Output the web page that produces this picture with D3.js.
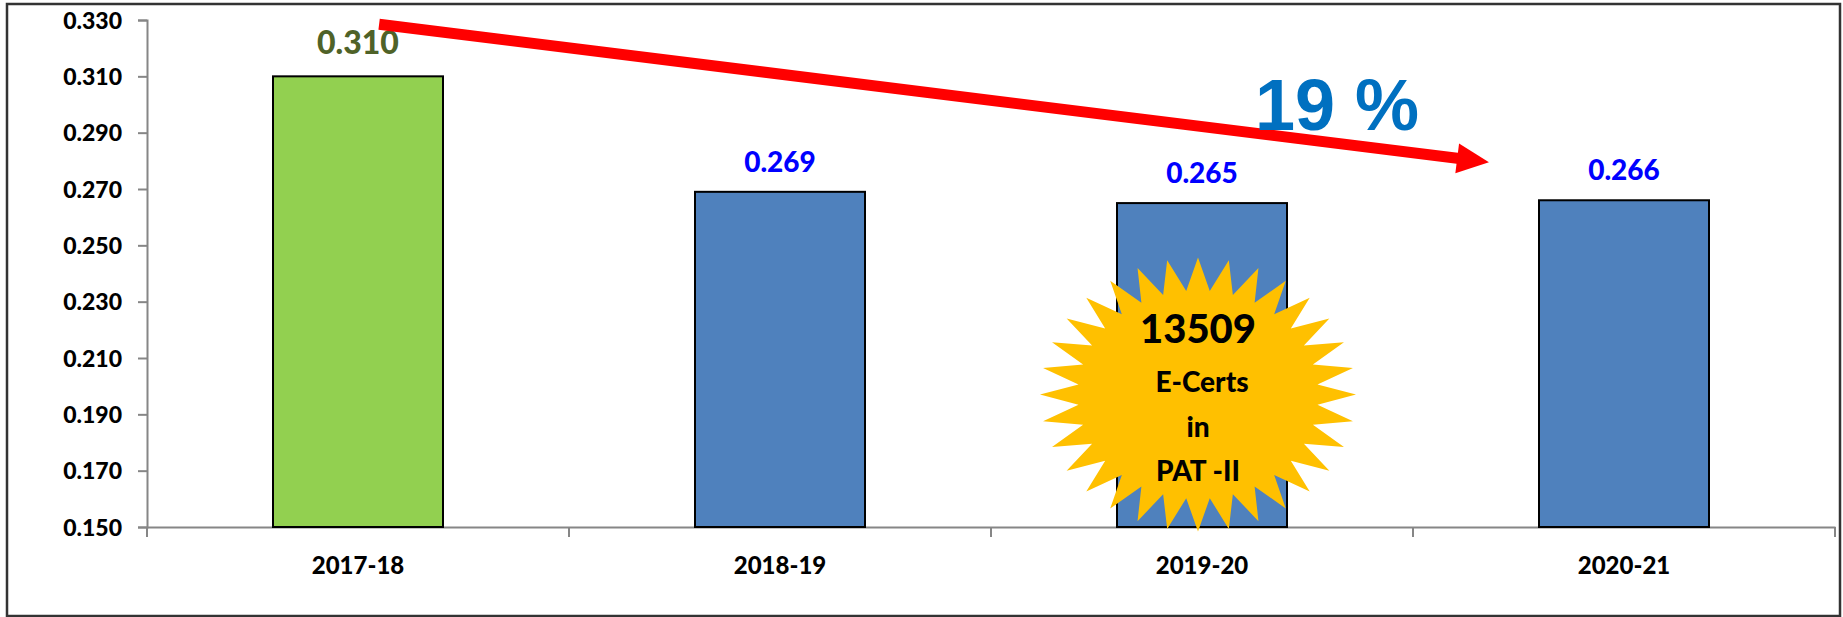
<!DOCTYPE html>
<html>
  <head>
    <meta charset="utf-8">
    <script src="https://d3js.org/d3.v7.min.js"></script>
    <style>
    body {
      margin: 0;
      background-color: #fff;
    }
    text {
      font-family: Lato, "Open Sans", sans-serif;
      font-weight: 900;
    }
    </style>
    <title>PAT-II E-Certs</title>
  </head>
  <body>
    <div class="chart"></div>

    <script>

      // data
      var years = ["2017-18", "2018-19", "2019-20", "2020-21"];
      var values = [0.310, 0.269, 0.265, 0.266];
      var barColors = ["#92d050", "#4f81bd", "#4f81bd", "#4f81bd"];
      var labelColors = ["#4f6228", "#0000ff", "#0000ff", "#0000ff"];
      var yTicks = [0.150, 0.170, 0.190, 0.210, 0.230, 0.250, 0.270, 0.290, 0.310, 0.330];

      // annotations (in data terms)
      var arrowStart = { year: "2017-18", shift: 0.05, value: 0.3285 };
      var arrowEnd = { year: "2020-21", shift: -0.32, value: 0.2795 };
      var arrowText = "19 %";
      var starYear = "2019-20";
      var starValue = 0.197;
      var starLines = ["13509", "E-Certs", "in", "PAT -II"];

      var width = 1843;
      var height = 617;

      var margin = {
        top: 20,
        right: 8,
        left: 147,
        bottom: 90
      };

      var svg = d3.select('.chart').append("svg")
          .attr("width", width)
          .attr("height", height);

      // outer frame
      svg.append("rect")
          .attr("x", 7)
          .attr("y", 4)
          .attr("width", 1833)
          .attr("height", 612)
          .attr("fill", "none")
          .attr("stroke", "#333")
          .attr("stroke-width", 2.5);

      var x = d3.scaleBand()
          .domain(years)
          .range([margin.left, width - margin.right])
          .padding(0);

      var y = d3.scaleLinear()
          .domain([0.150, 0.330])
          .range([height - margin.bottom, margin.top]);

      var barWidth = 170;
      var fmt = d3.format(".3f");
      var axisColor = "#868686";

      // y axis
      var yAxis = svg.append("g")
          .attr("transform", "translate(" + margin.left + ",0)")
          .call(d3.axisLeft(y).tickValues(yTicks).tickFormat(fmt).tickSize(9).tickPadding(16));

      yAxis.select(".domain").attr("stroke", axisColor).attr("stroke-width", 2);
      yAxis.selectAll(".tick line").attr("stroke", axisColor).attr("stroke-width", 2);
      yAxis.selectAll(".tick text")
          .attr("font-size", 23)
          .attr("fill", "#000")
          .attr("dy", "0.36em");

      // x axis: labels centred, ticks at category boundaries
      var xAxis = svg.append("g")
          .attr("transform", "translate(0," + y(0.150) + ")")
          .call(d3.axisBottom(x).tickSize(0).tickPadding(30));

      xAxis.select(".domain").attr("stroke", axisColor).attr("stroke-width", 2);
      xAxis.selectAll(".tick text")
          .attr("font-size", 24)
          .attr("fill", "#000");

      var bounds = years.map(function(d) { return x(d); }).concat([x(years[years.length - 1]) + x.bandwidth()]);
      xAxis.selectAll(".bound")
          .data(bounds)
          .enter().append("line")
          .attr("class", "bound")
          .attr("x1", function(d) { return d; })
          .attr("x2", function(d) { return d; })
          .attr("y1", 0)
          .attr("y2", 10)
          .attr("stroke", axisColor)
          .attr("stroke-width", 2);

      // bars
      var data = years.map(function(d, i) { return { year: d, value: values[i], i: i }; });

      svg.append("g")
          .selectAll("rect")
          .data(data)
          .enter().append("rect")
          .attr("x", function(d) { return x(d.year) + (x.bandwidth() - barWidth) / 2; })
          .attr("y", function(d) { return y(d.value); })
          .attr("width", barWidth)
          .attr("height", function(d) { return y(0.150) - y(d.value); })
          .attr("fill", function(d) { return barColors[d.i]; })
          .attr("stroke", "#000")
          .attr("stroke-width", 2);

      // value labels
      svg.append("g")
          .selectAll("text")
          .data(data)
          .enter().append("text")
          .attr("x", function(d) { return x(d.year) + x.bandwidth() / 2; })
          .attr("y", function(d) { return y(d.value) - (d.i === 0 ? 22 : 20); })
          .attr("text-anchor", "middle")
          .attr("font-size", function(d) { return d.i === 0 ? 32 : 28; })
          .attr("fill", function(d) { return labelColors[d.i]; })
          .text(function(d) { return fmt(d.value); });

      // starburst
      var cx = x(starYear) + x.bandwidth() / 2 - 4;
      var cy = y(starValue);
      var nPts = 32, rx = 158, ry = 137, inner = 0.76;
      var pts = [];
      for (var k = 0; k < nPts * 2; k++) {
        var a = -Math.PI / 2 + k * Math.PI / nPts;
        var r = (k % 2 === 0) ? 1 : inner;
        pts.push([cx + Math.cos(a) * rx * r, cy + Math.sin(a) * ry * r]);
      }
      svg.append("path")
          .attr("d", "M" + pts.join("L") + "Z")
          .attr("fill", "#ffc000");

      var starText = svg.append("g");
      var lineY = [-52, -3, 42, 86];
      var lineSize = [40, 28, 28, 28];
      starLines.forEach(function(t, i) {
        starText.append("text")
            .attr("x", cx + (i === 1 ? 4 : 0))
            .attr("y", cy + lineY[i])
            .attr("text-anchor", "middle")
            .attr("font-size", lineSize[i])
            .attr("fill", "#000")
            .text(t);
      });

      // red arrow (start just right of the first bar's centre, tip left of the last bar)
      var x0 = x(arrowStart.year) + x.bandwidth() * (0.5 + arrowStart.shift);
      var y0 = y(arrowStart.value);
      var x1 = x(arrowEnd.year) + x.bandwidth() * (0.5 + arrowEnd.shift);
      var y1 = y(arrowEnd.value);
      var len = Math.sqrt((x1 - x0) * (x1 - x0) + (y1 - y0) * (y1 - y0));
      var ux = (x1 - x0) / len, uy = (y1 - y0) / len;
      var headLen = 32, headHalf = 15;
      var bx = x1 - ux * headLen, by = y1 - uy * headLen;

      svg.append("line")
          .attr("x1", x0)
          .attr("y1", y0)
          .attr("x2", bx + ux * 2)
          .attr("y2", by + uy * 2)
          .attr("stroke", "#ff0000")
          .attr("stroke-width", 11);

      svg.append("path")
          .attr("d", "M" + x1 + "," + y1 +
                     "L" + (bx - uy * headHalf) + "," + (by + ux * headHalf) +
                     "L" + (bx + uy * headHalf) + "," + (by - ux * headHalf) + "Z")
          .attr("fill", "#ff0000");

      svg.append("text")
          .attr("x", 1255)
          .attr("y", 130)
          .attr("font-size", 72)
          .attr("fill", "#0070c0")
          .style("font-family", "'Liberation Sans', Arial, sans-serif")
          .style("font-weight", "bold")
          .text(arrowText);

    </script>
  </body>
</html>
